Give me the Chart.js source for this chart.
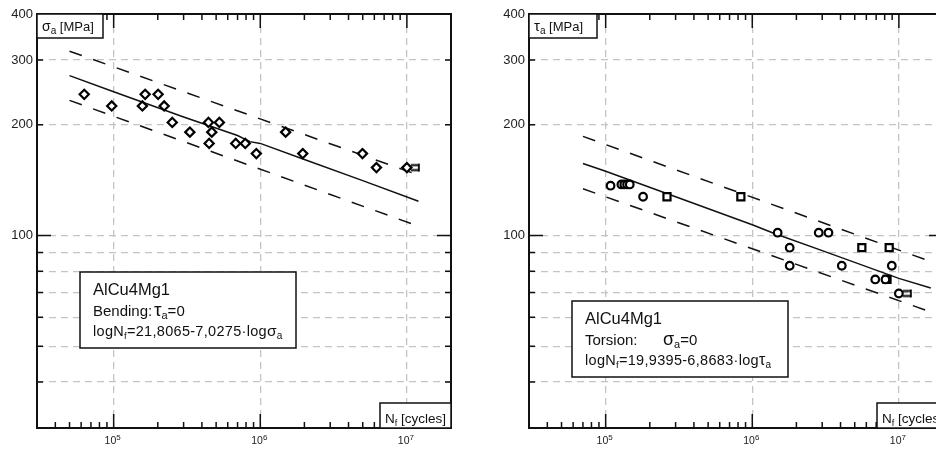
<!DOCTYPE html>
<html>
<head>
<meta charset="utf-8">
<script src="https://cdn.jsdelivr.net/npm/chart.js@4.4.0/dist/chart.umd.min.js"></script>
<style>
  html, body { margin: 0; padding: 0; background: #fff; overflow: hidden; width: 936px; height: 449px; }
  .panel { position: absolute; top: 0; width: 468px; height: 449px; }
  #p1 { left: 0; }
  #p2 { left: 492px; }
</style>
</head>
<body>
<div class="panel" id="p1"><canvas id="c1"></canvas></div>
<div class="panel" id="p2"><canvas id="c2"></canvas></div>
<script>
// ======== Axis ticks ========
const xMajor = [1e5, 1e6, 1e7];
const xMinor = [4e4, 5e4, 6e4, 7e4, 8e4, 9e4, 2e5, 3e5, 4e5, 5e5, 6e5, 7e5, 8e5, 9e5,
                2e6, 3e6, 4e6, 5e6, 6e6, 7e6, 8e6, 9e6];
const yGrid = [40, 50, 60, 70, 80, 90, 100, 200, 300];
const yLabels = [100, 200, 300, 400];
const yMajor = [100];
const yMinor = [40, 50, 60, 70, 80, 90, 200, 300];

// ======== Bending (left) ========
const bendN = [6.3e4, 9.7e4, 1.57e5, 1.64e5, 2.01e5, 2.21e5, 2.51e5, 3.31e5, 4.43e5, 4.67e5,
               4.48e5, 5.26e5, 6.8e5, 7.9e5, 9.4e5, 1.49e6, 1.95e6, 4.98e6, 6.2e6, 1.0e7];
const bendS = [242, 225, 225, 242, 242, 225, 203, 191, 203, 191,
               178, 203, 178, 178, 167, 191, 167, 167, 153, 153];
const bendRunN = [1.0e7];
const bendRunS = [153];
const bendFitN = [5e4, 1e5, 3e5, 7e5, 8.5e5, 1e6, 2e6, 5e6, 1.2e7];
const bendFitS = [272, 246, 210, 187, 180, 178, 161, 141, 124];
const bendUpN = [5e4, 1.2e7];
const bendUpS = [317, 146];
const bendLowN = [5e4, 1.2e7];
const bendLowS = [233, 106];

// ======== Torsion (right) ========
const torsCircN = [1.08e5, 1.28e5, 1.34e5, 1.40e5, 1.46e5, 1.8e5, 1.49e6, 1.8e6, 1.8e6, 2.84e6,
                   3.31e6, 4.08e6, 8.95e6, 6.9e6, 8.1e6, 1.0e7];
const torsCircT = [136.6, 137.7, 137.7, 137.7, 137.7, 127.5, 101.8, 92.7, 82.8, 101.8,
                   101.8, 82.8, 82.8, 76, 76, 69.6];
const torsSqN = [2.62e5, 8.36e5, 5.59e6, 8.59e6, 8.3e6];
const torsSqT = [127.5, 127.5, 92.7, 92.7, 76];
const torsRunN = [1.0e7];
const torsRunT = [69.6];
const torsFitN = [7e4, 1e5, 3e5, 1e6, 1.4e6, 3e6, 1e7, 1.65e7];
const torsFitT = [157, 149.5, 127.5, 107, 101.5, 91, 76.5, 72];
const torsUpN = [7e4, 1.65e7];
const torsUpT = [186, 85];
const torsLowN = [7e4, 1.65e7];
const torsLowT = [134, 62];

// ======== Styles ========
const FONT = '"Liberation Sans", Arial, sans-serif';
const INK = '#111';
const GRID = '#c4c4c4';

function pts(xs, ys) { return xs.map((v, i) => ({ x: v, y: ys[i] })); }

// run-out arrow glyph, drawn to the right of the point
const runArrow = document.createElement('canvas');
runArrow.width = 34; runArrow.height = 12;
(function () {
  const g = runArrow.getContext('2d');
  g.strokeStyle = '#000'; g.lineWidth = 1.8;
  g.beginPath();
  g.moveTo(21, 3.5); g.lineTo(29, 3.5);
  g.moveTo(21, 8.5); g.lineTo(29, 8.5);
  g.moveTo(29, 2); g.lineTo(29, 10);
  g.stroke();
})();

function markers(data, style, r) {
  return { data, showLine: false, pointStyle: style, pointRadius: r, pointBorderWidth: 2.2,
           pointBorderColor: '#000', pointBackgroundColor: '#fff', order: 0 };
}
function line(data, dash) {
  return { data, showLine: true, pointRadius: 0, borderColor: INK, borderWidth: 1.5,
           borderDash: dash || [], tension: 0, order: 1 };
}
function runout(data) {
  return { data, showLine: false, pointStyle: runArrow, pointRadius: 6, order: 2 };
}

// draws text runs with sub/superscripts; part = [text, size, dy, xoff]
function rich(ctx, x0, y, parts, spacing) {
  let x = x0;
  ctx.letterSpacing = (spacing || 0) + 'px';
  for (const [t, size, dy, xoff] of parts) {
    if (xoff !== undefined) x = x0 + xoff;
    ctx.font = size + 'px ' + FONT;
    ctx.fillText(t, x, y + (dy || 0));
    x += ctx.measureText(t).width;
  }
  ctx.letterSpacing = '0px';
  return x - x0;
}
function box(ctx, x, y, w, h) {
  ctx.fillStyle = '#fff';
  ctx.fillRect(x, y, w, h);
  ctx.lineWidth = 1.5;
  ctx.strokeStyle = INK;
  ctx.strokeRect(x, y, w, h);
  ctx.fillStyle = INK;
}

// ======== Frame, inward ticks, x labels, boxes ========
const framePlugin = {
  id: 'frame',
  afterDraw(chart, args, o) {
    const { ctx, chartArea: a, scales: { x, y } } = chart;
    ctx.save();
    ctx.strokeStyle = INK; ctx.fillStyle = INK;
    ctx.lineWidth = 1.5;
    ctx.beginPath();
    const xTick = (v, len) => {
      const p = x.getPixelForValue(v);
      ctx.moveTo(p, a.bottom); ctx.lineTo(p, a.bottom - len);
      ctx.moveTo(p, a.top); ctx.lineTo(p, a.top + len);
    };
    const yTick = (v, len) => {
      const p = y.getPixelForValue(v);
      ctx.moveTo(a.left, p); ctx.lineTo(a.left + len, p);
      ctx.moveTo(a.right, p); ctx.lineTo(a.right - len, p);
    };
    xMinor.forEach(v => xTick(v, 6));
    xMajor.forEach(v => xTick(v, 14));
    yMinor.forEach(v => yTick(v, 6));
    yMajor.forEach(v => yTick(v, 14));
    ctx.stroke();

    ctx.lineWidth = 2;
    ctx.strokeRect(a.left, a.top, a.width, a.height);

    // x labels 10^n
    ctx.fillStyle = '#222';
    ctx.textBaseline = 'alphabetic';
    xMajor.forEach(v => {
      const p = x.getPixelForValue(v);
      const e = String(Math.round(Math.log10(v)));
      ctx.font = '10.5px ' + FONT;
      const w1 = ctx.measureText('10').width;
      ctx.font = '8px ' + FONT;
      const w2 = ctx.measureText(e).width;
      rich(ctx, p - (w1 + w2) / 2 - 1, a.bottom + 16, [['10', 10.5], [e, 8, -4]]);
    });

    // axis title boxes
    box(ctx, a.left, a.top, o.yBoxW, 24);
    rich(ctx, a.left + 5, a.top + 17, o.yTitle);
    box(ctx, a.right - o.xBoxW, a.bottom - 25, o.xBoxW, 25);
    rich(ctx, a.right - o.xBoxW + 5, a.bottom - 5,
         [['N', 13.5], ['f', 9, 3], [' [cycles]', 13.5]]);

    // note box
    const n = o.note;
    const bx = a.left + 43;
    box(ctx, bx, n.top, 216, 76);
    n.lines.forEach(l => rich(ctx, bx + 13, n.top + l.dy, l.parts, l.sp));
    ctx.restore();
  }
};

function makeChart(id, datasets, frame) {
  return new Chart(document.getElementById(id), {
    type: 'scatter',
    data: { datasets },
    options: {
      responsive: true,
      maintainAspectRatio: false,
      animation: false,
      layout: { padding: { top: 14, right: 17, left: 0, bottom: 0 } },
      plugins: { legend: { display: false }, tooltip: { enabled: false }, frame },
      scales: {
        x: {
          type: 'logarithmic', min: 3e4, max: 2e7,
          afterBuildTicks: s => { s.min = 3e4; s.max = 2e7; s.ticks = xMajor.map(v => ({ value: v })); },
          afterFit: s => { s.height = 21; },
          ticks: { display: false },
          grid: { color: GRID, lineWidth: 1.3, drawTicks: false },
          border: { display: false, dash: [7, 5] }
        },
        y: {
          type: 'logarithmic', min: 30, max: 400,
          afterBuildTicks: s => { s.min = 30; s.max = 400; s.ticks = yGrid.concat([400]).map(v => ({ value: v })); },
          afterFit: s => { s.width = 37; },
          ticks: {
            autoSkip: false, padding: 4, color: '#222', font: { family: FONT, size: 13 },
            callback: v => yLabels.includes(v) ? String(v) : ''
          },
          grid: {
            color: c => (c.tick && c.tick.value === 400) ? 'rgba(0,0,0,0)' : GRID,
            lineWidth: 1.3, drawTicks: false
          },
          border: { display: false, dash: [7, 5] }
        }
      }
    },
    plugins: [framePlugin]
  });
}

makeChart('c1', [
  markers(pts(bendN, bendS), 'rectRot', 4.6),
  runout(pts(bendRunN, bendRunS)),
  line(pts(bendFitN, bendFitS)),
  line(pts(bendUpN, bendUpS), [13, 12]),
  line(pts(bendLowN, bendLowS), [13, 12])
], {
  yBoxW: 66, xBoxW: 71,
  yTitle: [['σ', 14], ['a', 10, 3], [' [MPa]', 13]],
  note: {
    top: 272,
    lines: [
      { dy: 23, parts: [['AlCu4Mg1', 16.5]] },
      { dy: 44, parts: [['Bending:', 15], ['τ', 19, 0, 61], ['a', 11, 3], ['=0', 15]] },
      { dy: 64, sp: 0.3, parts: [['logN', 14.5], ['f', 9.5, 3], ['=21,8065-7,0275·log', 14.5], ['σ', 15.5], ['a', 10, 3]] }
    ]
  }
});

makeChart('c2', [
  markers(pts(torsCircN, torsCircT), 'circle', 3.8),
  markers(pts(torsSqN, torsSqT), 'rect', 5),
  runout(pts(torsRunN, torsRunT)),
  line(pts(torsFitN, torsFitT)),
  line(pts(torsUpN, torsUpT), [13, 12]),
  line(pts(torsLowN, torsLowT), [13, 12])
], {
  yBoxW: 68, xBoxW: 66,
  yTitle: [['τ', 15], ['a', 10, 3], [' [MPa]', 13]],
  note: {
    top: 301,
    lines: [
      { dy: 23, parts: [['AlCu4Mg1', 16.5]] },
      { dy: 43.5, parts: [['Torsion:', 15], ['σ', 18, 0, 78], ['a', 11, 3], ['=0', 15]] },
      { dy: 64, sp: 0.3, parts: [['logN', 14.5], ['f', 9.5, 3], ['=19,9395-6,8683·log', 14.5], ['τ', 16], ['a', 10, 3]] }
    ]
  }
});
</script>
</body>
</html>
